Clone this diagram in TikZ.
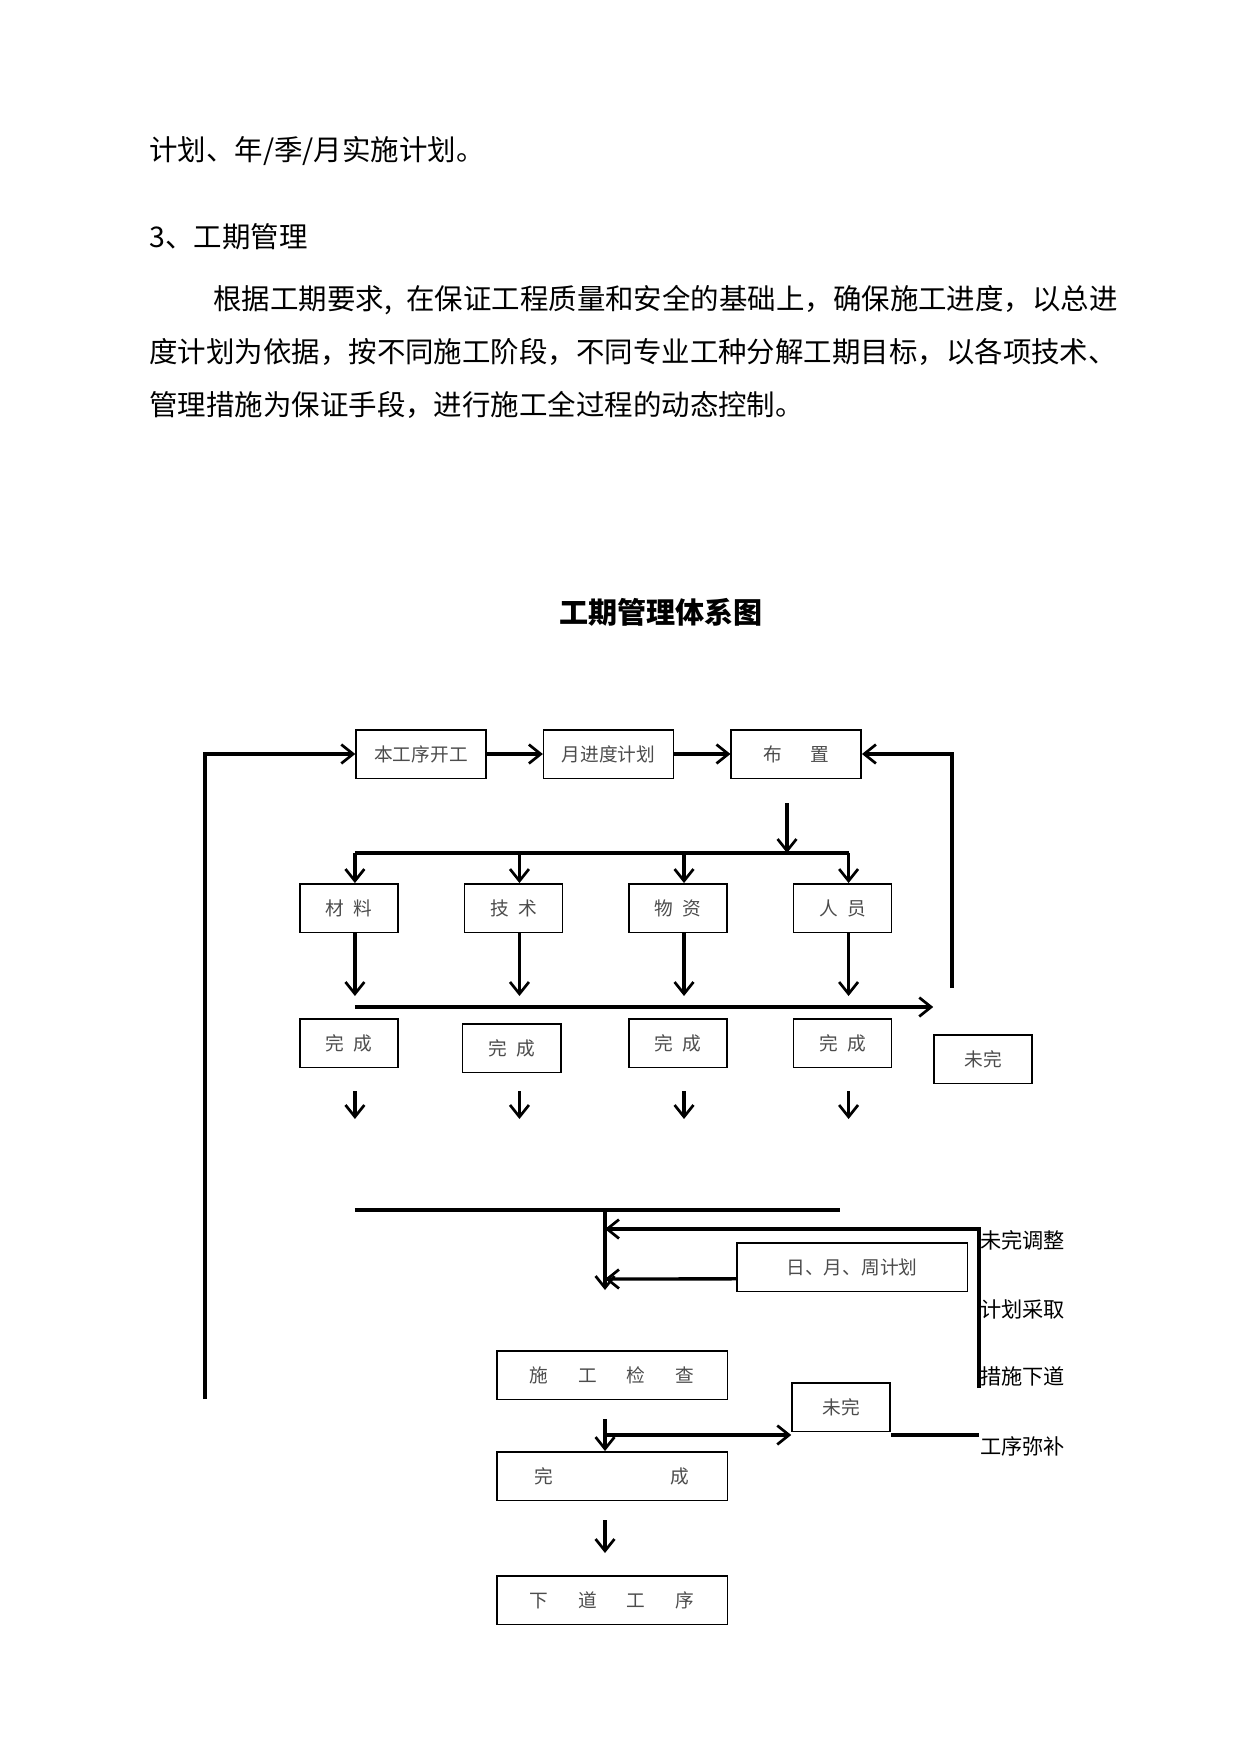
\documentclass[tikz,border=0pt]{standalone}
\usepackage{fontspec}
\setmainfont{Noto Sans CJK SC}
\usetikzlibrary{arrows.meta, positioning}

\begin{document}
\begin{tikzpicture}[
      x=0.016922cm, y=-0.016922cm,
      % Styles
      proc_box/.style={
        rectangle, draw, line width=0.7pt,
        minimum width=1.66cm, minimum height=0.82cm,
        inner sep=1pt, align=center, text=black!70,
        font=\fontsize{9pt}{11pt}\selectfont
      },
      top_box/.style={proc_box, minimum width=2.2cm},
      wide_box/.style={proc_box, minimum width=3.9cm},
      flow_arrow/.style={
        -{Straight Barb[length=2mm, width=3.2mm, line width=1.3pt]},
        line width=1.6pt
      },
      flow_line/.style={line width=1.6pt},
      body_text/.style={
        anchor=west, inner sep=0pt, font=\fontsize{13.7pt}{16pt}\selectfont
      },
      side_text/.style={
        anchor=west, inner sep=0pt, font=\fontsize{10.2pt}{12pt}\selectfont
      }
    ]
    \useasboundingbox (0,0) rectangle (1241,1754);

    % --- 0. TEXT ---
    \node[body_text] (line_a) at (149,151) {计划、年/季/月实施计划。};
    \node[body_text] (sec) at (149,237) {3、工期管理};
    \node[body_text] (par_a) at (213,300) {根据工期要求,\hspace{0.5em}在保证工程质量和安全的基础上，确保施工进度，以总进};
    \node[body_text] (par_b) at (149,352) {度计划为依据，按不同施工阶段，不同专业工种分解工期目标，以各项技术、};
    \node[body_text] (par_c) at (149,405) {管理措施为保证手段，进行施工全过程的动态控制。};
    \node[font=\fontsize{14pt}{16pt}\selectfont\bfseries] (title) at (661,612) {工期管理体系图};

    % --- 1. NODES ---

    % Top row
    \node[top_box] (start) at (421,754) {本工序开工};
    \node[top_box, right=0.95cm of start] (plan) {月进度计划};
    \node[top_box, right=0.95cm of plan] (layout) {布\hspace{1.5em}置};

    % Resources
    \node[proc_box] (cl) at (349,908) {材\hspace{0.5em}料};
    \node[proc_box, right=1.1cm of cl] (js) {技\hspace{0.5em}术};
    \node[proc_box, right=1.1cm of js] (wz) {物\hspace{0.5em}资};
    \node[proc_box, right=1.1cm of wz] (ry) {人\hspace{0.5em}员};

    % Finished / unfinished
    \node[proc_box, below=1.44cm of cl] (done_a) {完\hspace{0.5em}成};
    \node[proc_box, below=1.53cm of js, xshift=-0.03cm] (done_b) {完\hspace{0.5em}成};
    \node[proc_box, below=1.44cm of wz] (done_c) {完\hspace{0.5em}成};
    \node[proc_box, below=1.44cm of ry] (done_d) {完\hspace{0.5em}成};
    \node[proc_box] (open_a) at (983,1059) {未完};

    % Lower chain
    \node[wide_box] (daily) at (852,1267) {日、月、周计划};
    \node[wide_box] (check) at (612,1375) {施\hspace{1.6em}工\hspace{1.6em}检\hspace{1.6em}查};
    \node[proc_box] (open_b) at (841,1407) {未完};
    \node[wide_box] (done) at (612,1476) {完\hspace{6.3em}成};
    \node[wide_box] (next) at (612,1600) {下\hspace{1.6em}道\hspace{1.6em}工\hspace{1.6em}序};

    % Side notes
    \node[side_text] (note_a) at (980,1240) {未完调整};
    \node[side_text] (note_b) at (980,1309) {计划采取};
    \node[side_text] (note_c) at (980,1376) {措施下道};
    \node[side_text] (note_d) at (980,1446) {工序弥补};

    % Helper points
    \coordinate (loop_bot) at (205,1399);
    \coordinate (back_bot) at (952,988);
    \coordinate (fork_top) at (787,803);
    \coordinate (fork) at (787,853);
    \coordinate (stop) at (0,996);
    \coordinate (sweep) at (0,1007);
    \coordinate (low_a) at (0,1091);
    \coordinate (low_b) at (0,1119);
    \coordinate (merge) at (605,1210);
    \coordinate (merge_end) at (840,1210);
    \coordinate (fb_in) at (605,1229);
    \coordinate (join) at (605,1290);
    \coordinate (fb_bot) at (979,1388);
    \coordinate (check_out) at (605,1419);
    \coordinate (split) at (605,1435);
    \coordinate (done_out) at (605,1520);
    \coordinate (next_in) at (605,1553);

    % --- 2. EDGES ---

    % Main loop
    \draw[flow_arrow] (loop_bot) |- (start.west);
    \draw[flow_arrow] (start) -- (plan);
    \draw[flow_arrow] (plan) -- (layout);
    \draw[flow_arrow] (back_bot) |- (layout.east);

    % Fork to resources
    \draw[flow_arrow] (fork_top) -- (fork);
    \draw[flow_line] ([xshift=0.1cm]cl.north |- fork) -- ([xshift=0.1cm]ry.north |- fork);
    \foreach \n in {cl,js,wz,ry}
      \draw[flow_arrow] ([xshift=0.1cm]\n.north |- fork) -- ([xshift=0.1cm]\n.north);

    % Resources down, unfinished sweep
    \foreach \n in {cl,js,wz,ry}
      \draw[flow_arrow] ([xshift=0.1cm]\n.south) -- ([xshift=0.1cm]\n.south |- stop);
    \draw[flow_arrow] ([xshift=0.1cm]cl.south |- sweep) -- (open_a.west |- sweep);

    % Finished down
    \foreach \n in {cl,js,wz,ry}
      \draw[flow_arrow] ([xshift=0.1cm]\n.south |- low_a) -- ([xshift=0.1cm]\n.south |- low_b);

    % Merge into check
    \draw[flow_line] ([xshift=0.1cm]cl.south |- merge) -- (merge_end);
    \draw[flow_arrow] (merge) -- (join);
    \draw[flow_arrow] (fb_bot) |- (fb_in);
    \draw[flow_arrow] ([yshift=-0.2cm]daily.west) -- (join |- 0,1279);

    % Check result
    \draw[flow_arrow] (check_out) -- (done.north -| check_out);
    \draw[flow_arrow] (split) -- (open_b.west |- split);
    \draw[flow_line] (open_b.east |- split) -- (fb_bot |- split);
    \draw[flow_arrow] (done_out) -- (next_in);

    \end{tikzpicture}
\end{document}
